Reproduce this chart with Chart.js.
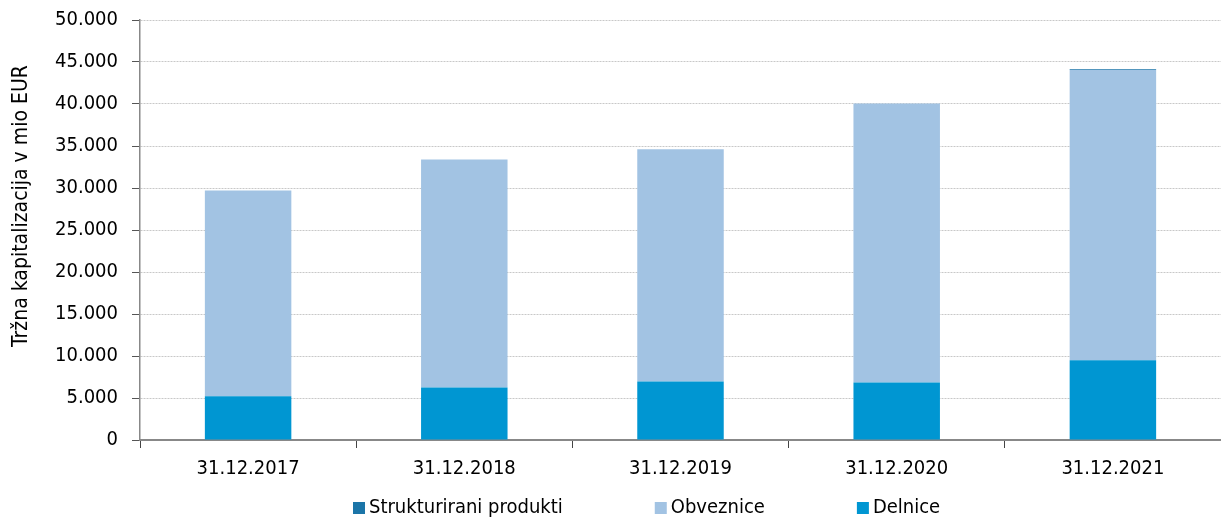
<!DOCTYPE html>
<html>
<head>
<meta charset="utf-8">
<script src="https://cdn.jsdelivr.net/npm/chart.js@4/dist/chart.umd.min.js"></script>
<style>
  html, body { margin: 0; padding: 0; background: #fff; }
  #wrap { width: 1221px; height: 517px; }
</style>
</head>
<body>
<div id="wrap"><canvas id="trgChart"></canvas></div>
<script>
// data (mio EUR)
const categories = ['31.12.2017', '31.12.2018', '31.12.2019', '31.12.2020', '31.12.2021'];
const delnice = [5200, 6250, 6950, 6850, 9500];
const obveznice = [24500, 27150, 27650, 33200, 34550];
const strukturirani = [0, 0, 0, 0, 100];
const yTicks = [0, 5000, 10000, 15000, 20000, 25000, 30000, 35000, 40000, 45000, 50000];

const FONT = "'DejaVu Sans Condensed', 'DejaVu Sans', sans-serif";

// legend drawn under the axis, wide spacing like the original
const bottomLegend = {
  id: 'bottomLegend',
  afterDraw(chart) {
    const ctx = chart.ctx;
    const order = [2, 1, 0]; // Strukturirani, Obveznice, Delnice
    const gap = 92, box = 12, textGap = 4;
    let x = 353;
    const y = 508;
    ctx.save();
    ctx.font = '20px ' + FONT;
    ctx.textBaseline = 'middle';
    order.forEach(i => {
      const ds = chart.data.datasets[i];
      ctx.fillStyle = ds.backgroundColor;
      ctx.fillRect(x, y - box / 2, box, box);
      ctx.fillStyle = '#000';
      ctx.fillText(ds.label, x + box + textGap, y);
      x += box + textGap + ctx.measureText(ds.label).width + gap;
    });
    ctx.restore();
  }
};

new Chart(document.getElementById('trgChart'), {
  type: 'bar',
  data: {
    labels: categories,
    datasets: [
      { label: 'Delnice', data: delnice, backgroundColor: '#0096d2' },
      { label: 'Obveznice', data: obveznice, backgroundColor: '#a2c3e3' },
      { label: 'Strukturirani produkti', data: strukturirani, backgroundColor: '#1b75a8' }
    ]
  },
  options: {
    responsive: true,
    maintainAspectRatio: false,
    animation: false,
    layout: { padding: { top: 20, right: 0, bottom: 30, left: 0 } },
    datasets: { bar: { categoryPercentage: 1, barPercentage: 0.4 } },
    plugins: {
      legend: { display: false },
      tooltip: { enabled: false }
    },
    scales: {
      x: {
        stacked: true,
        afterFit(scale) { scale.height = 47; },
        grid: { drawOnChartArea: false, drawTicks: true, tickLength: 8, tickColor: '#444', offset: true },
        border: { display: true, color: '#888', width: 2 },
        ticks: { color: '#000', font: { family: FONT, size: 20 }, padding: 9, maxRotation: 0 }
      },
      y: {
        stacked: true,
        min: 0,
        max: 50000,
        afterFit(scale) {
          scale.width = 140;
          scale.paddingTop = 0;
          scale.paddingBottom = 0;
        },
        afterBuildTicks(scale) { scale.ticks = yTicks.map(v => ({ value: v })); },
        grid: { color: '#c8c8c8', lineWidth: 1, tickColor: '#555', tickLength: 8 },
        border: { display: true, color: '#888', width: 1.5, dash: [2, 1] },
        ticks: {
          color: '#000',
          font: { family: FONT, size: 20 },
          padding: 14,
          callback: v => v === 0 ? '0' : v.toLocaleString('de-DE')
        },
        title: {
          display: true,
          // leading spaces lift the rotated title a little, as in the original
          text: '        Tržna kapitalizacija v mio EUR',
          color: '#000',
          font: { family: FONT, size: 21 },
          padding: { top: 9, bottom: 0 }
        }
      }
    }
  },
  plugins: [bottomLegend]
});
</script>
</body>
</html>
